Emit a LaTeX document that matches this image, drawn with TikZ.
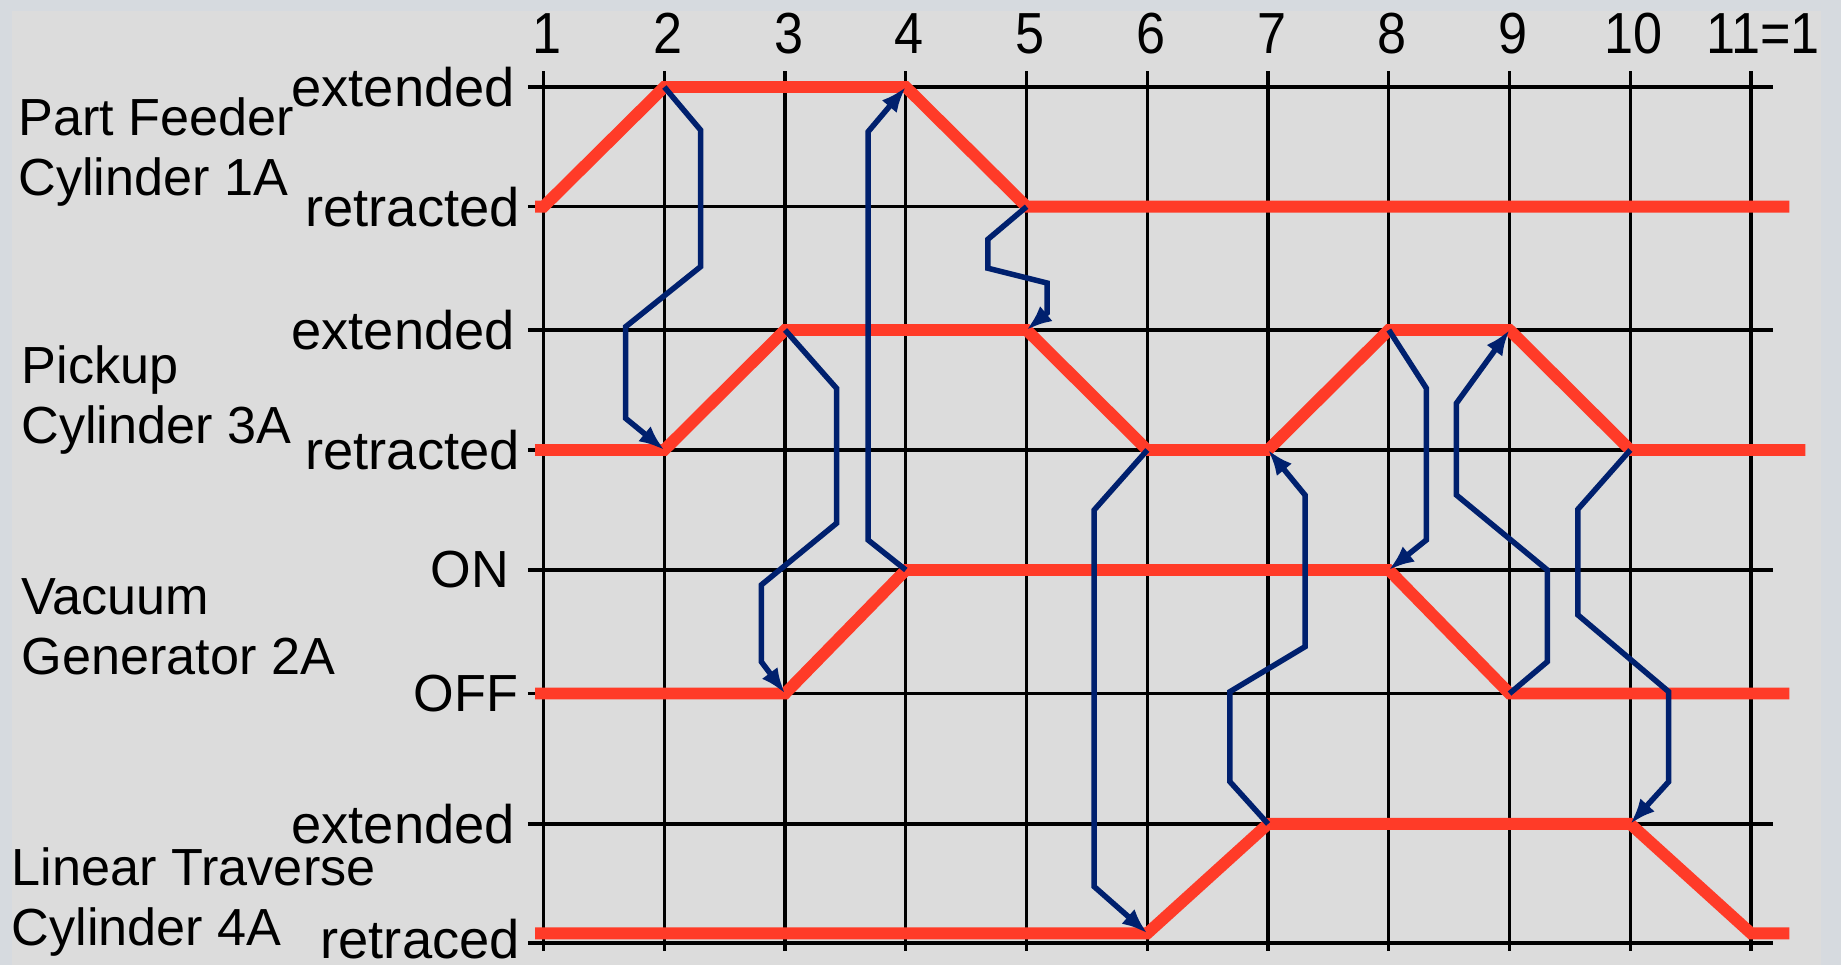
\documentclass[tikz,border=0pt]{standalone}
\usepackage{fontspec}
\setmainfont{Liberation Sans}
\usepackage{graphicx}
\usetikzlibrary{arrows.meta}
\definecolor{chartred}{HTML}{FF3B28}
\definecolor{signalblue}{HTML}{00206E}
\definecolor{panelgray}{HTML}{DCDCDC}
\definecolor{framegray}{HTML}{D6DADF}
\newcommand{\stepnum}[1]{\scalebox{1}[1.11]{#1}}

\begin{document}
\begin{tikzpicture}[>={Latex[length=6pt,width=4.6pt]},
    gridline/.style={black, line width=0.75pt},
    trace/.style={chartred, line width=2.8pt},
    sigline/.style={->, signalblue, line width=1.3pt},
    statelbl/.style={anchor=east, inner sep=0pt, font=\fontsize{12.8}{14.1}\selectfont},
    onoff/.style={statelbl, font=\fontsize{12.3}{14.1}\selectfont},
    device/.style={anchor=north west, inner sep=0pt, align=left, font=\fontsize{12.3}{14.1}\selectfont},
    stepno/.style={anchor=base, inner sep=0pt, font=\fontsize{12.3}{14.1}\selectfont}]

  % background
  \fill[framegray] (-3.502,0) rectangle (11.745,7.992);
  \fill[panelgray] (-3.403,0) rectangle (11.579,7.901);
  \useasboundingbox (-3.502,0) rectangle (11.745,7.992);

  % grid
  \foreach \x in {1,...,11}
    \draw[gridline] (\x,0.116) -- (\x,7.40);
  \foreach \y in {7.271,6.280,5.259,4.265,3.271,2.248,1.168,0.182}
    \draw[gridline] (0.87,\y) -- (11.18,\y);

  % step numbers
  \foreach \x in {1,...,10}
    \node[stepno] (n\x) at (\x+0.03,7.55) {\stepnum{\x}};
  \node[stepno] (n11) at (11.1,7.55) {\stepnum{11=1}};

  % states
  \node[statelbl] (pfe) at (0.77,7.271) {extended};
  \node[statelbl] (pfr) at (0.81,6.280) {retracted};
  \node[statelbl] (pue) at (0.77,5.259) {extended};
  \node[statelbl] (pur) at (0.81,4.265) {retracted};
  \node[onoff] (vgon) at (0.72,3.271) {ON};
  \node[onoff] (vgoff) at (0.795,2.248) {OFF};
  \node[statelbl] (lte) at (0.77,1.168) {extended};
  \node[statelbl] (ltr) at (0.81,0.215) {retraced};

  % devices
  \node[device] (pf) at (-3.355,7.191) {Part Feeder\\Cylinder 1A};
  \node[device] (pu) at (-3.33,5.135) {Pickup\\Cylinder 3A};
  \node[device] (vg) at (-3.33,3.205) {Vacuum\\Generator 2A};
  \node[device] (lt) at (-3.41,0.977) {Linear Traverse\\Cylinder 4A};

  % corners of the traces
  \coordinate (pf1) at (1,6.280);
  \coordinate (pf2) at (2,7.271);
  \coordinate (pf4) at (4,7.271);
  \coordinate (pf5) at (5,6.280);
  \coordinate (pu2) at (2,4.265);
  \coordinate (pu3) at (3,5.259);
  \coordinate (pu5) at (5,5.259);
  \coordinate (pu6) at (6,4.265);
  \coordinate (pu7) at (7,4.265);
  \coordinate (pu8) at (8,5.259);
  \coordinate (pu9) at (9,5.259);
  \coordinate (pu10) at (10,4.265);
  \coordinate (vg3) at (3,2.248);
  \coordinate (vg4) at (4,3.271);
  \coordinate (vg8) at (8,3.271);
  \coordinate (vg9) at (9,2.248);
  \coordinate (lt6) at (6,0.262);
  \coordinate (lt7) at (7,1.168);
  \coordinate (lt10) at (10,1.168);
  \coordinate (lt11) at (11,0.262);

  % traces
  \draw[trace] (0.93,6.280) -- (pf1) -- (pf2) -- (pf4) -- (pf5) -- (11.318,6.280);
  \draw[trace] (0.93,4.265) -- (pu2) -- (pu3) -- (pu5) -- (pu6) -- (pu7)
    -- (pu8) -- (pu9) -- (pu10) -- (11.449,4.265);
  \draw[trace] (0.93,2.248) -- (vg3) -- (vg4) -- (vg8) -- (vg9) -- (11.318,2.248);
  \draw[trace] (0.93,0.262) -- (lt6) -- (lt7) -- (lt10) -- (lt11) -- (11.318,0.262);

  % signal lines
  \draw[sigline] (pf2) -- (2.30,6.915) -- (2.30,5.783) -- (1.68,5.286) -- (1.68,4.527) -- (pu2);
  \draw[sigline] (pu3) -- (3.426,4.776) -- (3.426,3.658) -- (2.803,3.147) -- (2.803,2.512) -- (vg3);
  \draw[sigline] (vg4) -- (3.687,3.52) -- (3.687,6.90) -- (pf4);
  \draw[sigline] (pf5) -- (4.68,6.01) -- (4.68,5.77) -- (5.17,5.648) -- (5.17,5.40) -- (pu5);
  \draw[sigline] (pu6) -- (5.56,3.768) -- (5.56,0.649) -- (lt6);
  \draw[sigline] (lt7) -- (6.684,1.518) -- (6.684,2.263) -- (7.306,2.636) -- (7.306,3.892) -- (pu7);
  \draw[sigline] (pu8) -- (8.311,4.776) -- (8.311,3.52) -- (vg8);
  \draw[sigline] (vg9) -- (9.313,2.512) -- (9.313,3.271) -- (8.56,3.892) -- (8.56,4.652) -- (pu9);
  \draw[sigline] (pu10) -- (9.566,3.774) -- (9.566,2.899) -- (10.318,2.263) -- (10.318,1.518) -- (lt10);
\end{tikzpicture}
\end{document}
